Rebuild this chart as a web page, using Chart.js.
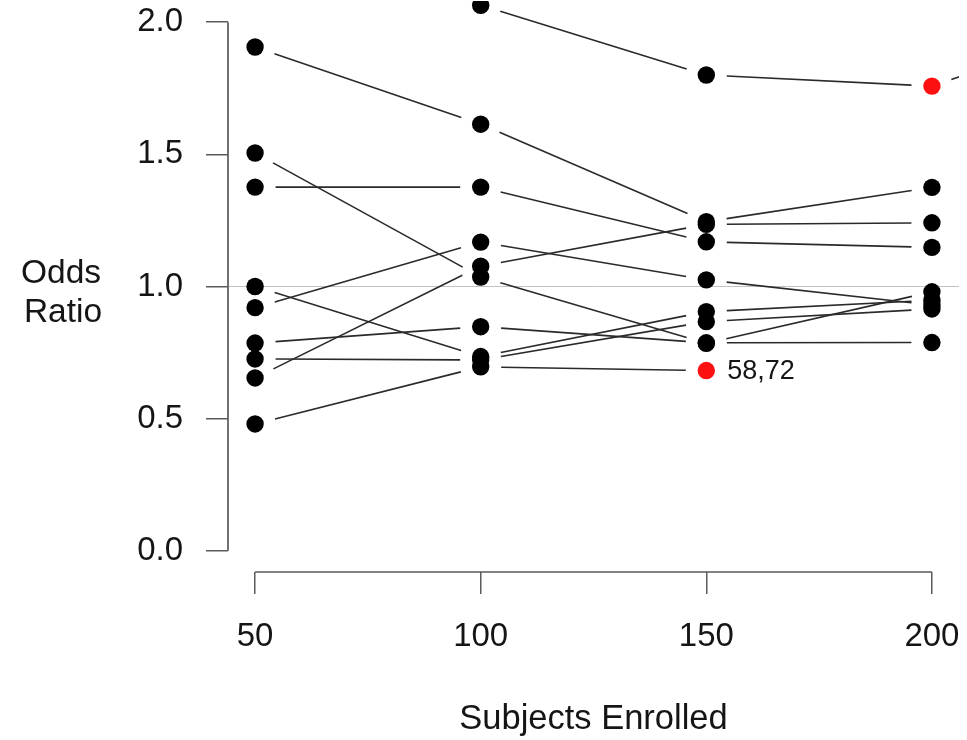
<!DOCTYPE html>
<html>
<head>
<meta charset="utf-8">
<script src="https://cdn.jsdelivr.net/npm/chart.js@4.4.1/dist/chart.umd.min.js"></script>
<style>
  html, body { margin: 0; padding: 0; background: #ffffff; }
  canvas { display: block; }
</style>
</head>
<body>
<canvas id="chart" width="967" height="740"></canvas>
<script>
// Interim odds-ratio estimates for ten simulated trials, by number of subjects enrolled
const enrolled = [50, 100, 150, 200, 250];
const trial01 = [null, 2.064, 1.80, 1.758, 2.05];
const trial02 = [1.906, 1.614, 1.245, 1.375, null];
const trial03 = [1.505, 1.036, 0.785, 0.98, null];
const trial04 = [1.376, 1.376, 1.169, 1.148, null];
const trial05 = [1.0, 0.735, 0.905, 0.948, null];
const trial06 = [0.92, 1.168, 1.025, 0.93, null];
const trial07 = [0.786, 0.848, 0.787, 0.788, null];
const trial08 = [0.726, 0.722, 0.867, 0.915, null];
const trial09 = [0.654, 1.077, 1.235, 1.241, null];
const trial10 = [0.48, 0.696, 0.682, null, null];
const trials = [trial01, trial02, trial03, trial04, trial05,
                trial06, trial07, trial08, trial09, trial10];

// Stage (index into enrolled) at which a trial is flagged in red; -1 = never
const flaggedStage = [3, -1, -1, -1, -1, -1, -1, -1, -1, 2];
const flagText     = ['', '', '', '', '', '', '', '', '', '58,72'];

const xTicks = [50, 100, 150, 200];
const yTicks = [0, 0.5, 1.0, 1.5, 2.0];
const nullRatio = 1.0;

const xTitle = 'Subjects Enrolled';
const yTitleLines = ['Odds', 'Ratio'];

const FONT = "'Liberation Sans', Arial, Helvetica, sans-serif";
const TEXT = '#151515';
const AXIS = '#5a5a5a';

// Build point datasets from the trial arrays
const blackPts = [];
const redPts = [];
trials.forEach((t, k) => {
  t.forEach((v, i) => {
    if (v === null) return;
    const p = { x: enrolled[i], y: v };
    if (flaggedStage[k] === i) redPts.push(p); else blackPts.push(p);
  });
});

// Connectors with gaps around points, axis lines, reference line and free text
const basePlot = {
  id: 'basePlot',
  beforeDatasetsDraw(chart) {
    const { ctx, chartArea: a, scales: { x, y } } = chart;
    ctx.save();
    ctx.beginPath();
    ctx.rect(a.left, a.top, a.right - a.left, a.bottom - a.top);
    ctx.clip();

    // horizontal reference line at an odds ratio of 1
    const yr = y.getPixelForValue(nullRatio);
    ctx.strokeStyle = '#c2c2c2';
    ctx.lineWidth = 1;
    ctx.beginPath();
    ctx.moveTo(a.left, yr);
    ctx.lineTo(a.right, yr);
    ctx.stroke();

    // segments joining successive estimates of each trial
    const gap = 20.5;
    ctx.strokeStyle = '#2a2a2a';
    ctx.lineWidth = 1.6;
    trials.forEach(t => {
      for (let i = 0; i < enrolled.length - 1; i++) {
        if (t[i] === null || t[i + 1] === null) continue;
        const x0 = x.getPixelForValue(enrolled[i]);
        const y0 = y.getPixelForValue(t[i]);
        const x1 = x.getPixelForValue(enrolled[i + 1]);
        const y1 = y.getPixelForValue(t[i + 1]);
        const dx = x1 - x0, dy = y1 - y0;
        const len = Math.hypot(dx, dy);
        if (len <= 2 * gap) continue;
        const ux = dx / len, uy = dy / len;
        ctx.beginPath();
        ctx.moveTo(x0 + ux * gap, y0 + uy * gap);
        ctx.lineTo(x1 - ux * gap, y1 - uy * gap);
        ctx.stroke();
      }
    });
    ctx.restore();
  },
  afterDraw(chart) {
    const { ctx, chartArea: a, scales: { x, y } } = chart;
    ctx.save();

    // axis lines spanning first to last tick
    ctx.strokeStyle = AXIS;
    ctx.lineWidth = 1.7;
    ctx.beginPath();
    ctx.moveTo(a.left, y.getPixelForValue(yTicks[0]));
    ctx.lineTo(a.left, y.getPixelForValue(yTicks[yTicks.length - 1]));
    ctx.moveTo(x.getPixelForValue(xTicks[0]), a.bottom);
    ctx.lineTo(x.getPixelForValue(xTicks[xTicks.length - 1]), a.bottom);
    ctx.stroke();

    // axis titles
    ctx.fillStyle = TEXT;
    ctx.font = `34.5px ${FONT}`;
    ctx.textAlign = 'center';
    ctx.textBaseline = 'alphabetic';
    ctx.fillText(xTitle, (a.left + a.right) / 2, 729);
    ctx.font = `33.5px ${FONT}`;
    const yMid = (a.top + a.bottom) / 2;
    ctx.fillText(yTitleLines[0], 61, yMid - 4);
    ctx.fillText(yTitleLines[1], 63, yMid + 35);

    // labels beside flagged estimates
    ctx.font = `27px ${FONT}`;
    ctx.textAlign = 'left';
    ctx.textBaseline = 'middle';
    trials.forEach((t, k) => {
      const s = flaggedStage[k];
      if (s < 0 || !flagText[k]) return;
      ctx.fillText(flagText[k], x.getPixelForValue(enrolled[s]) + 21, y.getPixelForValue(t[s]) + 1);
    });
    ctx.restore();
  }
};

Chart.defaults.font.family = FONT;

new Chart(document.getElementById('chart'), {
  type: 'scatter',
  data: {
    datasets: [
      { data: blackPts, backgroundColor: '#000000', borderWidth: 0,
        pointRadius: 8.7, pointHoverRadius: 8.7 },
      { data: redPts, backgroundColor: '#ff1010', borderWidth: 0,
        pointRadius: 8.7, pointHoverRadius: 8.7 }
    ]
  },
  options: {
    responsive: false,
    animation: false,
    events: [],
    layout: { autoPadding: false, padding: { top: 1, right: 8, left: 0, bottom: 0 } },
    plugins: { legend: { display: false }, tooltip: { enabled: false } },
    scales: {
      x: {
        type: 'linear',
        position: 'bottom',
        min: 44,
        max: 206,
        afterBuildTicks: s => { s.ticks = xTicks.map(v => ({ value: v })); },
        afterFit: s => { s.height = 168; s.paddingLeft = 0; s.paddingRight = 0; s.paddingTop = 0; s.paddingBottom = 0; },
        border: { display: false },
        grid: { drawOnChartArea: false, drawTicks: true, tickLength: 22,
                color: AXIS, lineWidth: 1.5 },
        ticks: { font: { size: 33 }, color: TEXT, padding: 23,
                 maxRotation: 0, autoSkip: false, callback: v => String(v) }
      },
      y: {
        type: 'linear',
        min: -0.08,
        max: 2.08,
        afterBuildTicks: s => { s.ticks = yTicks.map(v => ({ value: v })); },
        afterFit: s => { s.width = 228; s.paddingTop = 0; s.paddingBottom = 0; s.paddingLeft = 0; s.paddingRight = 0; },
        border: { display: false },
        grid: { drawOnChartArea: false, drawTicks: true, tickLength: 22,
                color: AXIS, lineWidth: 1.5 },
        ticks: { font: { size: 33 }, color: TEXT, padding: 23,
                 autoSkip: false, callback: v => Number(v).toFixed(1) }
      }
    }
  },
  plugins: [basePlot]
});
</script>
</body>
</html>
